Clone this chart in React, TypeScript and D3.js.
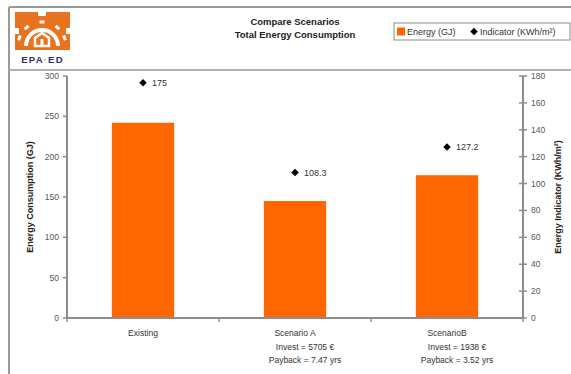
import React from "react";
import * as d3 from "d3";

const categories = ["Existing", "Scenario A", "ScenarioB"];
const subLabels = [[], ["Invest = 5705 €", "Payback = 7.47 yrs"], ["Invest = 1938 €", "Payback = 3.52 yrs"]];
const energyGJ = [242, 145, 177];
const indicator = [175, 108.3, 127.2];
const leftTicks = [0, 50, 100, 150, 200, 250, 300];
const rightTicks = [0, 20, 40, 60, 80, 100, 120, 140, 160, 180];

const W = 571;
const H = 374;
const FONT = "'Liberation Sans', Arial, sans-serif";
const ORANGE = "#FF6600";
const AXIS = "#8c8c8c";

function Logo() {
  const cx = 42, cy = 46;
  const rays = [-160, -130, -90, -50, -20];
  return (
    <g>
      <rect x={15} y={12} width={55} height={38} fill="#E8731F" />
      {/* notches along the edges */}
      <rect x={38} y={12} width={8} height={4} fill="#fff" />
      <rect x={15} y={28} width={4} height={6} fill="#fff" />
      <rect x={66} y={28} width={4} height={6} fill="#fff" />
      {rays.map((a, i) => {
        const r = (a * Math.PI) / 180;
        const x = cx + Math.cos(r) * 24;
        const y = cy + Math.sin(r) * 24;
        return (
          <rect key={i} x={x - 2.5} y={y - 1.5} width={5} height={3} fill="#fff"
            transform={`rotate(${a + 90},${x},${y})`} />
        );
      })}
      <path d={d3.arc()({ innerRadius: 14, outerRadius: 18, startAngle: -Math.PI / 2, endAngle: Math.PI / 2 }) as string}
        transform={`translate(${cx},${cy})`} fill="#fff" />
      <path d={`M${cx - 7},${cy} L${cx - 7},${cy - 8} L${cx},${cy - 13} L${cx + 7},${cy - 8} L${cx + 7},${cy} Z`}
        fill="none" stroke="#fff" strokeWidth={2.5} />
      <rect x={cx - 1.5} y={cy - 7} width={3} height={7} fill="#fff" />
      <text x={42.5} y={63} textAnchor="middle" fontFamily={FONT} fontWeight="bold" fontSize={9.5}
        fill="#2b2d6e" letterSpacing={1.2}>
        EPA<tspan fill="#E8731F">·</tspan>ED
      </text>
    </g>
  );
}

export default function App() {
  const x = d3.scaleBand<string>().domain(categories).range([67, 523]).paddingInner(0.59).paddingOuter(0.295);
  const yL = d3.scaleLinear().domain([0, 300]).range([318, 76]);
  const yR = d3.scaleLinear().domain([0, 180]).range([318, 76]);
  const diamond = d3.symbol().type(d3.symbolDiamond2).size(36)() as string;
  const step = x.step();

  return (
    <svg width={W} height={H} style={{ position: "absolute", left: 0, top: 0, background: "#fff" }} fontFamily={FONT}>
      {/* frame */}
      <line x1={9} y1={7} x2={W} y2={7} stroke="#9a9a9a" strokeWidth={2} />
      <line x1={9} y1={7} x2={9} y2={H} stroke="#9a9a9a" strokeWidth={2} />
      <line x1={9} y1={70} x2={W} y2={70} stroke="#b0b0b0" strokeWidth={2} />

      <Logo />

      {/* title */}
      <text x={295} y={25} textAnchor="middle" fontSize={9.5} fontWeight="bold" fill="#222">Compare Scenarios</text>
      <text x={295} y={38} textAnchor="middle" fontSize={9.5} fontWeight="bold" fill="#222">Total Energy Consumption</text>

      {/* legend */}
      <rect x={394} y={23} width={176} height={17} fill="#fff" stroke="#8a8a8a" strokeWidth={1} />
      <rect x={397} y={27.5} width={8} height={8} fill={ORANGE} />
      <text x={407} y={35} fontSize={9} fill="#333">Energy (GJ)</text>
      <path d={diamond} transform="translate(474,31.5)" fill="#000" />
      <text x={480} y={35} fontSize={9} fill="#333">Indicator (KWh/m²)</text>

      {/* bars */}
      {categories.map((c, i) => (
        <rect key={c} x={x(c)} y={yL(energyGJ[i])} width={x.bandwidth()} height={yL(0) - yL(energyGJ[i])} fill={ORANGE} />
      ))}

      {/* indicator markers */}
      {categories.map((c, i) => {
        const cx = (x(c) as number) + x.bandwidth() / 2;
        const cy = yR(indicator[i]);
        return (
          <g key={c}>
            <path d={diamond} transform={`translate(${cx},${cy})`} fill="#000" />
            <text x={cx + 9} y={cy + 3.5} fontSize={9} fill="#333">{String(indicator[i])}</text>
          </g>
        );
      })}

      {/* left axis */}
      <line x1={67} y1={yL(300)} x2={67} y2={yL(0)} stroke={AXIS} strokeWidth={2} />
      {leftTicks.map((t) => (
        <g key={t}>
          <line x1={63} x2={67} y1={yL(t)} y2={yL(t)} stroke={AXIS} strokeWidth={1.5} />
          <text x={59} y={yL(t) + 3} textAnchor="end" fontSize={8.5} fill="#555">{t}</text>
        </g>
      ))}
      <text transform={`translate(33,197) rotate(-90)`} textAnchor="middle" fontSize={9} fontWeight="bold" fill="#222">
        Energy Consumption (GJ)
      </text>

      {/* right axis */}
      <line x1={523} y1={yR(180)} x2={523} y2={yR(0)} stroke={AXIS} strokeWidth={2} />
      {rightTicks.map((t) => (
        <g key={t}>
          <line x1={519} x2={527} y1={yR(t)} y2={yR(t)} stroke={AXIS} strokeWidth={1.5} />
          <text x={531} y={yR(t) + 3} fontSize={8.5} fill="#555">{t}</text>
        </g>
      ))}
      <text transform={`translate(561,197) rotate(-90)`} textAnchor="middle" fontSize={9} fontWeight="bold" fill="#222">
        Energy Indicator (KWh/m²)
      </text>

      {/* category axis */}
      <line x1={67} y1={318} x2={523} y2={318} stroke={AXIS} strokeWidth={2} />
      {d3.range(categories.length + 1).map((i) => (
        <line key={i} x1={67 + i * step} x2={67 + i * step} y1={318} y2={322} stroke={AXIS} strokeWidth={1.5} />
      ))}
      {categories.map((c, i) => {
        const cx = (x(c) as number) + x.bandwidth() / 2;
        return (
          <g key={c}>
            <text x={cx} y={336} textAnchor="middle" fontSize={8.5} fill="#333">{c}</text>
            {subLabels[i].map((s, j) => (
              <text key={s} x={cx + 10} y={350 + j * 13} textAnchor="middle" fontSize={8.5} fill="#333">{s}</text>
            ))}
          </g>
        );
      })}
    </svg>
  );
}
